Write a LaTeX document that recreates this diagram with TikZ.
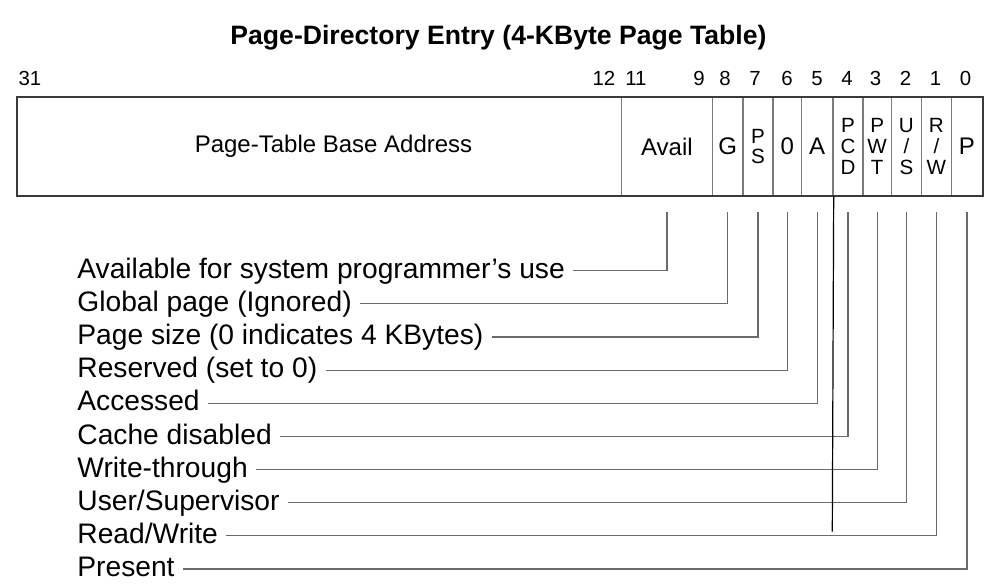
\documentclass[tikz,border=0pt]{standalone}
\usepackage{fontspec}
\setmainfont{Liberation Sans}
\usetikzlibrary{arrows.meta}

\definecolor{rule}{HTML}{7C7C7C}
\definecolor{frame}{HTML}{3A3A3A}
\definecolor{leadgray}{HTML}{6A6A6A}

\begin{document}
\begin{tikzpicture}[
    x=0.5pt, y=-0.5pt,
    field/.style={draw=rule,line width=0.7pt,anchor=north west,inner sep=0pt,
        minimum height=49.15pt,font=\fontsize{12}{14}\selectfont},
    stack/.style={align=center,font=\fontsize{10.3}{10.4}\selectfont,
        execute at begin node=\rule{0pt}{10.8pt}},
    bitno/.style={anchor=base,inner sep=0pt,font=\fontsize{10.2}{12}\selectfont},
    desc/.style={anchor=west,inner xsep=4pt,inner ysep=0pt,text height=10pt,
        text depth=2.3pt,font=\fontsize{14.1}{16}\selectfont},
    lead/.style={draw=leadgray,line width=0.6pt},
]
\useasboundingbox (0,0) rectangle (998,588);

\node[font=\bfseries\fontsize{13.3}{15}\selectfont] (title) at (498.5,38)
    {Page-Directory Entry (4-KByte Page Table)};

% bit numbers
\node[bitno] (b31) at (30,85.3) {31};
\node[bitno] (b12) at (604,85.3) {12};
\node[bitno] (b11) at (636,85.3) {11};
\node[bitno] (b9) at (699,85.3) {9};
\node[bitno] (b8) at (725,85.3) {8};
\node[bitno] (b7) at (755,85.3) {7};
\node[bitno] (b6) at (787,85.3) {6};
\node[bitno] (b5) at (817,85.3) {5};
\node[bitno] (b4) at (847,85.3) {4};
\node[bitno] (b3) at (875.5,85.3) {3};
\node[bitno] (b2) at (905.5,85.3) {2};
\node[bitno] (b1) at (935.5,85.3) {1};
\node[bitno] (b0) at (965.5,85.3) {0};

% the entry, one field per node
\node[field,minimum width=301.85pt] (fBase) at (17,96.7)
    {\hspace*{14pt}Page-Table Base Address};
\node[field,minimum width=45.5pt] (fAvail) at (620.7,96.7) {Avail};
\node[field,minimum width=15.3pt] (fG) at (711.7,96.7) {G};
\node[field,stack,minimum width=15pt] (fPS) at (742.3,96.7) {P\\S};
\node[field,minimum width=14.2pt] (fZero) at (772.3,96.7) {0};
\node[field,minimum width=15.8pt] (fA) at (800.7,96.7) {A};
\node[field,stack,minimum width=15pt] (fPCD) at (832.3,96.7) {P\\C\\D};
\node[field,stack,minimum width=14.2pt] (fPWT) at (862.3,96.7) {P\\W\\T};
\node[field,stack,minimum width=15pt] (fUS) at (890.7,96.7) {U\\/\\S};
\node[field,stack,minimum width=15pt] (fRW) at (920.7,96.7) {R\\/\\W};
\node[field,minimum width=15.5pt] (fP) at (950.7,96.7) {P};

\draw[frame,line width=0.9pt] (fBase.north west) rectangle (fP.south east);

% descriptions
\node[desc] (dAvail) at (69,270.7) {Available for system programmer's use};
\node[desc] (dG) at (69,303.9) {Global page (Ignored)};
\node[desc] (dPS) at (69,337) {Page size (0 indicates 4 KBytes)};
\node[desc] (dZero) at (69,370.2) {Reserved (set to 0)};
\node[desc] (dA) at (69,403.3) {Accessed};
\node[desc] (dPCD) at (69,436.5) {Cache disabled};
\node[desc] (dPWT) at (69,469.6) {Write-through};
\node[desc] (dUS) at (69,502.8) {User/Supervisor};
\node[desc] (dRW) at (69,535.9) {Read/Write};
\node[desc] (dP) at (69,569.1) {Present};

% leaders up to the fields
\draw[lead] (dAvail.east) -| ([yshift=-8pt]fAvail.south);
\draw[lead] (dG.east) -| ([yshift=-8pt]fG.south);
\draw[lead] (dPS.east) -| ([yshift=-8pt]fPS.south);
\draw[lead] (dZero.east) -| ([yshift=-8pt]fZero.south);
\draw[lead] (dA.east) -| ([yshift=-8pt]fA.south);
\draw[lead] (dPCD.east) -| ([yshift=-8pt]fPCD.south);
\draw[lead] (dPWT.east) -| ([yshift=-8pt]fPWT.south);
\draw[lead] (dUS.east) -| ([yshift=-8pt]fUS.south);
\draw[lead] (dRW.east) -| ([yshift=-8pt]fRW.south);
\draw[lead] (dP.east) -| ([yshift=-8pt]fP.south);

% stray rule below the A/PCD border
\coordinate (tail) at (832.3,531.7);
\draw[black,line width=0.6pt] (fA.south east) -- (tail);
\end{tikzpicture}
\end{document}
